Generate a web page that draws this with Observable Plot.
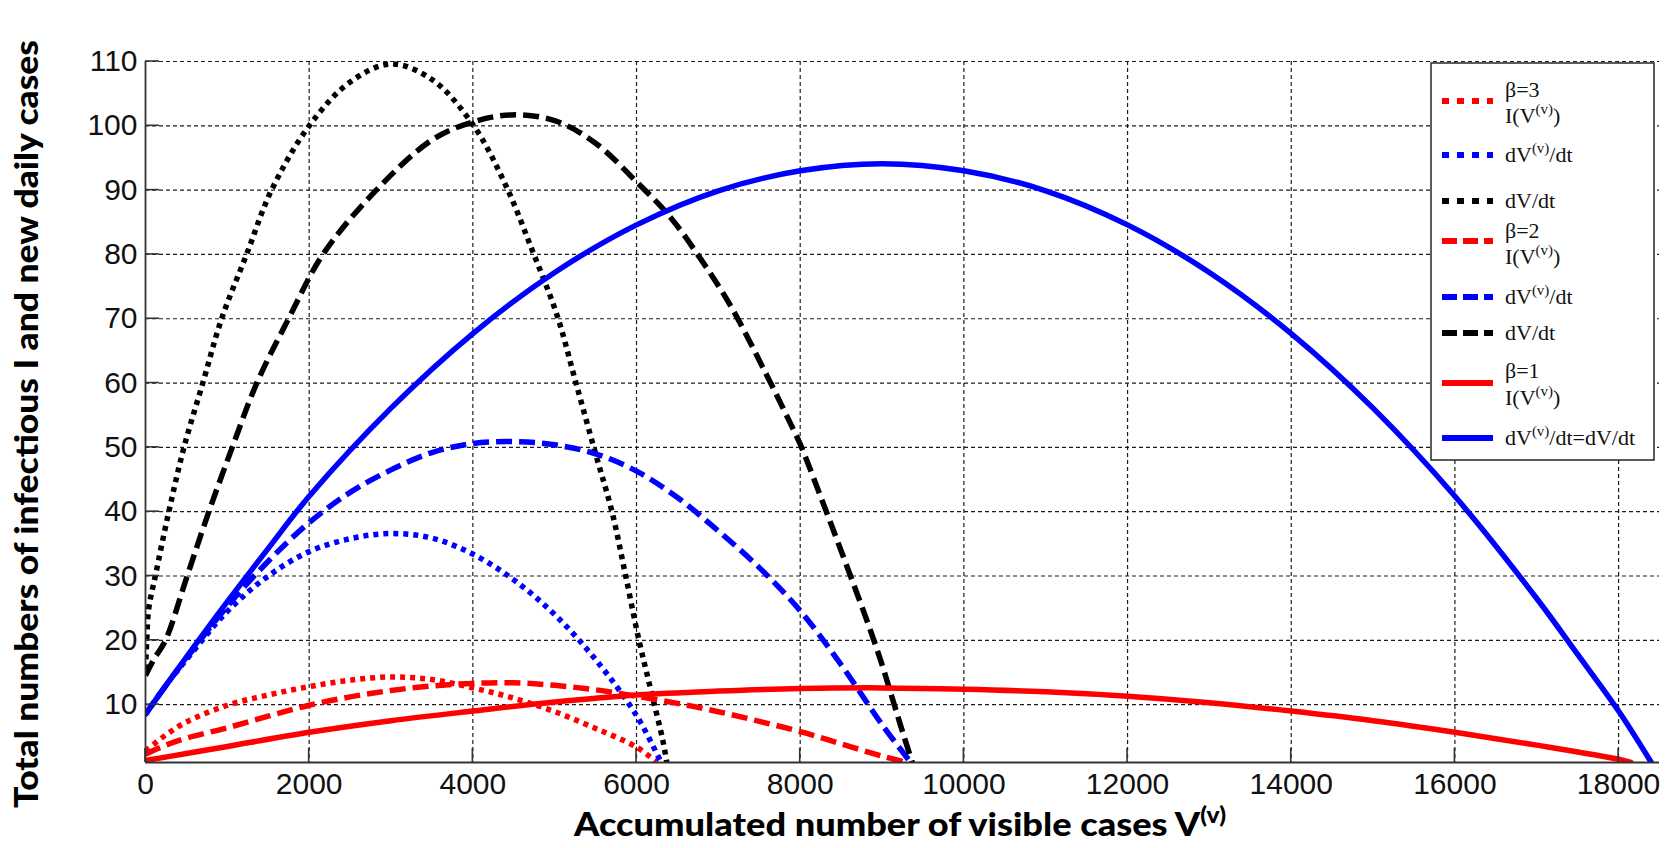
<!DOCTYPE html>
<html><head><meta charset="utf-8">
<script src="https://cdn.jsdelivr.net/npm/d3@7"></script>
<script src="https://cdn.jsdelivr.net/npm/@observablehq/plot@0.6"></script>
<style>body{margin:0;background:#fff;}#chart{width:1666px;height:848px;}</style>
</head><body><div id="chart"></div>
<script>
// ---- tick labels ----
const xTicks = [0, 2000, 4000, 6000, 8000, 10000, 12000, 14000, 16000, 18000];
const yTicks = [10, 20, 30, 40, 50, 60, 70, 80, 90, 100, 110];
const xDomain = [0, 18500];
const yDomain = [1, 110];

// ---- beta = 3 ----
const b3_I_x = [0, 250, 500, 1000, 1500, 2000, 2500, 3000, 3500, 4000, 4500, 5000, 5500, 6000, 6250];
const b3_I_y = [2.8, 5.3, 7.3, 9.9, 11.5, 12.8, 13.8, 14.3, 13.9, 12.6, 11.0, 8.9, 6.3, 3.4, 1.0];
const b3_dVv_x = [0, 250, 500, 1000, 1500, 2000, 2500, 3000, 3500, 4000, 4500, 5000, 5500, 6000, 6300];
const b3_dVv_y = [8.5, 13.0, 17.0, 24.5, 30.0, 33.8, 35.8, 36.6, 35.9, 33.4, 29.4, 24.0, 17.0, 8.3, 1.0];
const b3_dV_x = [0, 15, 40, 120, 285, 470, 700, 930, 1235, 1540, 2000, 2500, 3000, 3500, 4000, 4400, 4730, 5030, 5260, 5500, 5700, 5860, 6030, 6180, 6320, 6370];
const b3_dV_y = [15.5, 20, 25, 30, 40, 50, 60, 70, 80, 90, 100, 106.8, 109.6, 107.2, 100.2, 90.8, 80.5, 70.5, 60, 49, 40, 30.5, 20, 12, 4.5, 1];

// ---- beta = 2 ----
const b2_I_x = [0, 250, 500, 1000, 1500, 2000, 2500, 3000, 3500, 4000, 4500, 5000, 5500, 6000, 6500, 7000, 7500, 8000, 8500, 9000, 9300];
const b2_I_y = [2.3, 3.7, 4.8, 6.4, 8.2, 9.9, 11.2, 12.2, 12.9, 13.3, 13.4, 13.0, 12.3, 11.3, 10.2, 8.9, 7.4, 5.8, 3.9, 2.0, 1.0];
const b2_dVv_x = [0, 250, 500, 1000, 1500, 2000, 2500, 3000, 3500, 4000, 4500, 5000, 5500, 6000, 6500, 7000, 7500, 8000, 8500, 9000, 9350];
const b2_dVv_y = [8.5, 13.0, 17.2, 25.3, 32.3, 38.3, 43.0, 46.5, 49.2, 50.6, 50.9, 50.4, 49.0, 46.3, 42.2, 37.0, 31.3, 24.6, 16.2, 6.9, 1.0];
const b2_dV_x = [0, 100, 244, 509, 774, 1060, 1360, 1748, 2168, 2820, 3500, 4000, 4480, 5000, 5500, 6000, 6400, 6800, 7150, 7580, 7870, 8000, 8260, 8450, 8650, 8840, 8990, 9130, 9250, 9370];
const b2_dV_y = [14.5, 17, 20, 30, 40, 50, 60, 70, 80, 90, 97.8, 100.6, 101.7, 100.8, 97.3, 91.3, 86, 79, 72, 61.5, 54, 50.5, 42, 35.6, 28.8, 22.2, 16.6, 10.8, 5.8, 1];

// ---- beta = 1 ----
const b1_I_x = [0, 500, 1000, 2000, 3000, 4000, 5000, 6000, 7000, 8000, 9000, 10000, 11000, 12000, 13000, 14000, 15000, 16000, 17000, 18000, 18150];
const b1_I_y = [1.3, 2.4, 3.5, 5.7, 7.5, 9.0, 10.4, 11.5, 12.1, 12.5, 12.6, 12.4, 12.0, 11.3, 10.3, 9.0, 7.5, 5.7, 3.7, 1.5, 1.0];
const b1_dV_x = [0, 250, 500, 1000, 1500, 2000, 3000, 4000, 5000, 6000, 7000, 8000, 9000, 10000, 11000, 12000, 13000, 14000, 15000, 16000, 17000, 17500, 18000, 18400];
const b1_dV_y = [8.5, 13.0, 17.4, 26.0, 34.3, 42.4, 56.1, 67.7, 77.2, 84.6, 89.9, 93.0, 94.1, 93.0, 89.9, 84.6, 77.2, 67.7, 56.1, 42.4, 26.5, 17.8, 9.0, 1.0];

// ---- styles ----
const RED = "#ff0000", BLUE = "#0000ff", BLACK = "#000000";
const DOT = "5,5", DASH = "16,7", SOLID = null;
const LW = 5.5;

const seriesDefs = [
  [b3_I_x, b3_I_y, RED, DOT],
  [b3_dVv_x, b3_dVv_y, BLUE, DOT],
  [b3_dV_x, b3_dV_y, BLACK, DOT],
  [b2_I_x, b2_I_y, RED, DASH],
  [b2_dVv_x, b2_dVv_y, BLUE, DASH],
  [b2_dV_x, b2_dV_y, BLACK, DASH],
  [b1_I_x, b1_I_y, RED, SOLID],
  [b1_dV_x, b1_dV_y, BLUE, SOLID]
];

const lineMarks = seriesDefs.map(([xs, ys, color, dash]) => {
  const rows = xs.map((x, i) => ({x, y: ys[i]}));
  const opts = {x: "x", y: "y", stroke: color, strokeWidth: LW, curve: "catmull-rom", clip: true, strokeLinejoin: "round"};
  if (dash) { opts.strokeDasharray = dash; opts.strokeLinecap = "butt"; }
  return Plot.line(rows, opts);
});

const gridStyle = {stroke: "#111", strokeOpacity: 0.95, strokeWidth: 1.2, strokeDasharray: "4,3"};

const chart = Plot.plot({
  width: 1666, height: 848,
  marginLeft: 145, marginRight: 7, marginTop: 61, marginBottom: 86,
  style: {fontFamily: "'Liberation Sans', Arial, sans-serif", background: "#fff", color: "#111"},
  x: {domain: xDomain},
  y: {domain: yDomain},
  marks: [
    Plot.gridX(xTicks.slice(1), gridStyle),
    Plot.gridY(yTicks, gridStyle),
    ...lineMarks,
    Plot.ruleX([xDomain[0]], {stroke: "#333", strokeWidth: 1.8}),
    Plot.ruleY([yDomain[0]], {stroke: "#333", strokeWidth: 1.8}),
    Plot.axisX(xTicks, {tickSize: 0, tickPadding: 10, fontSize: 30, label: null, tickFormat: d3.format("d"), fill: "#111"}),
    Plot.axisY(yTicks, {tickSize: 0, tickPadding: 8, fontSize: 30, label: null, tickFormat: d3.format("d"), fill: "#111"})
  ]
});
document.getElementById("chart").appendChild(chart);

const sx = chart.scale("x"), sy = chart.scale("y");
const svg = d3.select(chart);
const TL = 14;
const tg = svg.append("g").attr("stroke", "#333").attr("stroke-width", 1.6);
xTicks.forEach(t => {
  const px = sx.apply(t), py = sy.apply(yDomain[0]);
  tg.append("line").attr("x1", px).attr("x2", px).attr("y1", py).attr("y2", py - TL);
});
yTicks.forEach(t => {
  const px = sx.apply(xDomain[0]), py = sy.apply(t);
  tg.append("line").attr("x1", px).attr("x2", px + TL).attr("y1", py).attr("y2", py);
});

// helper for text with superscripts: parts = [[text, isSup], ...]
function richText(sel, parts, size) {
  let raised = false;
  parts.forEach(([s, sup]) => {
    const t = sel.append("tspan").text(s);
    if (sup && !raised) { t.attr("dy", -size * 0.42).attr("font-size", size * 0.68); raised = true; }
    else if (!sup && raised) { t.attr("dy", size * 0.42); raised = false; }
    else if (sup) { t.attr("font-size", size * 0.68); }
  });
}

// axis titles
const xt = svg.append("text")
  .attr("x", 900).attr("y", 836).attr("text-anchor", "middle")
  .attr("font-family", "Lato, 'DejaVu Sans', sans-serif").attr("font-weight", 900)
  .attr("font-size", 32).attr("fill", "#000")
  .attr("textLength", 652).attr("lengthAdjust", "spacingAndGlyphs");
richText(xt, [["Accumulated number of visible cases V", false], ["(v)", true]], 32);

svg.append("text")
  .attr("transform", "translate(38,424) rotate(-90)")
  .attr("text-anchor", "middle")
  .attr("font-family", "Lato, 'DejaVu Sans', sans-serif").attr("font-weight", 900)
  .attr("font-size", 33).attr("fill", "#000")
  .attr("textLength", 768).attr("lengthAdjust", "spacingAndGlyphs")
  .text("Total numbers of infectious I and new daily cases");

// legend
const lg = svg.append("g").attr("text-anchor", "start");
lg.append("rect").attr("x", 1431).attr("y", 63).attr("width", 223).attr("height", 397)
  .attr("fill", "#fff").attr("stroke", "#333").attr("stroke-width", 1.6);
const LFS = 22;
const IV = [["I(V", false], ["(v)", true], [")", false]];
const DVV = [["dV", false], ["(v)", true], ["/dt", false]];
const DV = [["dV/dt", false]];
const DVALL = [["dV", false], ["(v)", true], ["/dt=dV/dt", false]];
const legendItems = [
  {sy: 101, color: RED, dash: "7,8", texts: [[97, [["β=3", false]]], [123, IV]]},
  {sy: 155, color: BLUE, dash: "7,8", texts: [[162, DVV]]},
  {sy: 201, color: BLACK, dash: "7,8", texts: [[208, DV]]},
  {sy: 241, color: RED, dash: "15,6", texts: [[238, [["β=2", false]]], [264, IV]]},
  {sy: 297, color: BLUE, dash: "15,6", texts: [[304, DVV]]},
  {sy: 333, color: BLACK, dash: "15,6", texts: [[340, DV]]},
  {sy: 383, color: RED, dash: null, texts: [[378, [["β=1", false]]], [405, IV]]},
  {sy: 438, color: BLUE, dash: null, texts: [[445, DVALL]]}
];
legendItems.forEach(it => {
  const l = lg.append("line").attr("x1", 1442).attr("x2", 1493).attr("y1", it.sy).attr("y2", it.sy)
    .attr("stroke", it.color).attr("stroke-width", 6);
  if (it.dash) l.attr("stroke-dasharray", it.dash);
  it.texts.forEach(([ty, parts]) => {
    const t = lg.append("text").attr("x", 1505).attr("y", ty).attr("text-anchor", "start")
      .attr("font-family", "'Liberation Serif', 'Times New Roman', serif")
      .attr("font-size", LFS).attr("fill", "#111");
    richText(t, parts, LFS);
  });
});
</script>
</body></html>
